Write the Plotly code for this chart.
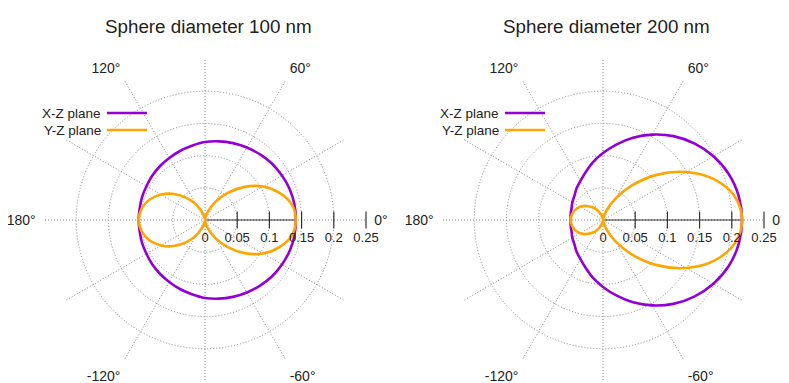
import plotly.graph_objects as go

# The page body has an 8px default margin; the figure is sized so it exactly fills the window.
WIN_W, WIN_H = 789, 383
OFF = 8
W, H = WIN_W - OFF, WIN_H - OFF

theta = list(range(0, 361, 10))

xz_100 = [0.141, 0.141, 0.140, 0.138, 0.136, 0.133, 0.130, 0.127, 0.124, 0.121,
          0.117, 0.114, 0.111, 0.109, 0.107, 0.105, 0.104, 0.103, 0.103,
          0.103, 0.104, 0.105, 0.107, 0.109, 0.111, 0.114, 0.117, 0.121,
          0.124, 0.127, 0.130, 0.133, 0.136, 0.138, 0.140, 0.141, 0.141]
yz_100 = [0.141, 0.137, 0.123, 0.104, 0.080, 0.055, 0.033, 0.015, 0.004, 0.000,
          0.004, 0.013, 0.028, 0.045, 0.063, 0.079, 0.092, 0.100, 0.103,
          0.100, 0.092, 0.079, 0.063, 0.045, 0.028, 0.013, 0.004, 0.000,
          0.004, 0.015, 0.033, 0.055, 0.080, 0.104, 0.123, 0.137, 0.141]
xz_200 = [0.216, 0.214, 0.208, 0.198, 0.185, 0.170, 0.153, 0.136, 0.119, 0.104,
          0.091, 0.079, 0.070, 0.064, 0.058, 0.055, 0.052, 0.051, 0.050,
          0.051, 0.052, 0.055, 0.058, 0.064, 0.070, 0.079, 0.091, 0.104,
          0.119, 0.136, 0.153, 0.170, 0.185, 0.198, 0.208, 0.214, 0.216]
yz_200 = [0.216, 0.208, 0.184, 0.149, 0.109, 0.070, 0.038, 0.016, 0.004, 0.000,
          0.003, 0.009, 0.018, 0.026, 0.034, 0.041, 0.046, 0.049, 0.050,
          0.049, 0.046, 0.041, 0.034, 0.026, 0.018, 0.009, 0.003, 0.000,
          0.004, 0.016, 0.038, 0.070, 0.109, 0.149, 0.184, 0.208, 0.216]

r_ticks = [0, 0.05, 0.1, 0.15, 0.2, 0.25]
r_ticktext = ["0", "0.05", "0.1", "0.15", "0.2", "0.25"]
ang_ticks = list(range(0, 360, 30))
ang_labels = {0: "0°", 60: "60°", 120: "120°", 180: "180°", 240: "-120°", 300: "-60°"}
ang_ticktext = [ang_labels.get(a, "") for a in ang_ticks]

titles = ["Sphere diameter 100 nm", "Sphere diameter 200 nm"]
series_names = ["X-Z plane", "Y-Z plane"]
PURPLE = "#9400D3"
ORANGE = "#FFA500"
TEXT = "#222222"
GRID = "#8a8a8a"
FONT = "Liberation Sans"


def px(x):
    return (x - OFF) / W


def py(y):
    return (H - (y - OFF)) / H


fig = go.Figure()

R = 161
CY = 220
panels = [
    dict(sub="polar", xz=xz_100, yz=yz_100, cx=205, title=titles[0]),
    dict(sub="polar2", xz=xz_200, yz=yz_200, cx=603, title=titles[1]),
]

for p in panels:
    sub = p["sub"]
    fig.add_trace(go.Scatterpolar(r=[0, p["xz"][0]], theta=[0, 0], mode="lines",
                                  line=dict(color="#333333", width=1.2),
                                  subplot=sub, showlegend=False, hoverinfo="skip"))
    fig.add_trace(go.Scatterpolar(r=r_ticks[1:], theta=[0] * (len(r_ticks) - 1), mode="markers",
                                  marker=dict(symbol="line-ns", size=12,
                                              line=dict(width=1.2, color="#333333")),
                                  subplot=sub, showlegend=False, hoverinfo="skip"))
    fig.add_trace(go.Scatterpolar(r=p["xz"], theta=theta, mode="lines", name=series_names[0],
                                  line=dict(color=PURPLE, width=2.6, shape="spline"),
                                  subplot=sub, showlegend=False))
    fig.add_trace(go.Scatterpolar(r=p["yz"], theta=theta, mode="lines", name=series_names[1],
                                  line=dict(color=ORANGE, width=2.6, shape="spline"),
                                  subplot=sub, showlegend=False))

polar_common = dict(
    bgcolor="white",
    radialaxis=dict(range=[0, 0.25], tickvals=r_ticks, ticktext=r_ticktext, angle=0,
                    showline=False, ticks="outside", ticklen=6, tickcolor="rgba(0,0,0,0)",
                    showgrid=True, gridcolor=GRID, griddash="1px,2px", gridwidth=1,
                    tickfont=dict(family=FONT, size=13, color=TEXT)),
    angularaxis=dict(tickvals=ang_ticks, ticktext=ang_ticktext, showline=False,
                     ticks="outside", ticklen=5, tickcolor="rgba(0,0,0,0)",
                     showgrid=True, gridcolor=GRID, griddash="1px,2px", gridwidth=1,
                     rotation=0, direction="counterclockwise",
                     tickfont=dict(family=FONT, size=14, color=TEXT)),
)

annotations = []
shapes = []
for p in panels:
    cx = p["cx"]
    annotations.append(dict(text=p["title"], x=px(cx + 3), y=py(27), xref="paper", yref="paper",
                            showarrow=False, xanchor="center", yanchor="middle",
                            font=dict(family=FONT, size=18.8, color=TEXT)))
    lx_text = cx - 102
    for i, (nm, col) in enumerate(zip(series_names, [PURPLE, ORANGE])):
        yy = 114 + 17 * i
        annotations.append(dict(text=nm, x=px(lx_text), y=py(yy), xref="paper", yref="paper",
                                showarrow=False, xanchor="right", yanchor="middle",
                                font=dict(family=FONT, size=13.5, color=TEXT)))
        shapes.append(dict(type="line", xref="paper", yref="paper",
                           x0=px(lx_text + 4), x1=px(lx_text + 44), y0=py(yy - 1), y1=py(yy - 1),
                           line=dict(color=col, width=2.6)))

fig.update_layout(
    width=W, height=H,
    margin=dict(l=0, r=0, t=0, b=0),
    paper_bgcolor="white",
    polar=dict(domain=dict(x=[px(205 - R), px(205 + R)], y=[py(CY + R), py(CY - R)]), **polar_common),
    polar2=dict(domain=dict(x=[px(603 - R), px(603 + R)], y=[py(CY + R), py(CY - R)]), **polar_common),
    annotations=annotations,
    shapes=shapes,
    showlegend=False,
)

fig.write_html("out.html")
